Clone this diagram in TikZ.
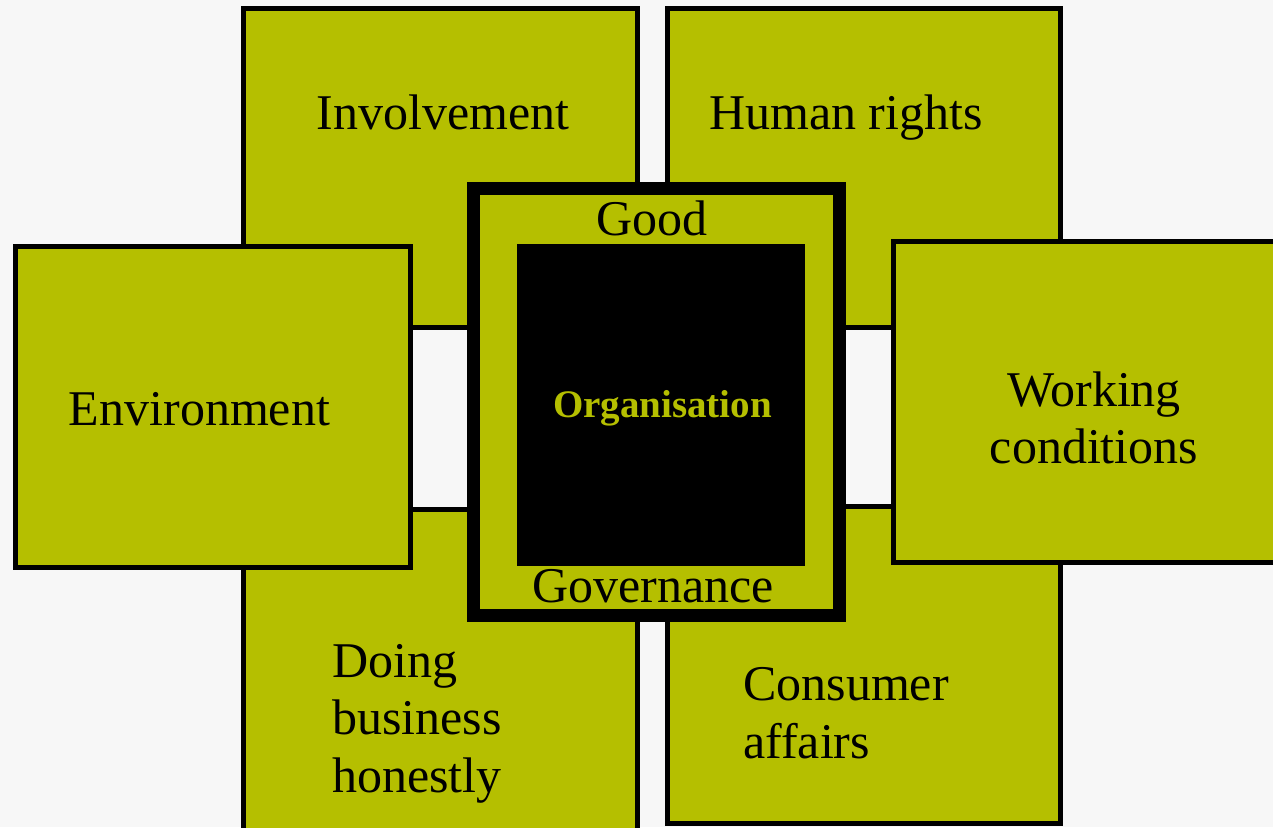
\documentclass[tikz,border=0pt]{standalone}
\usepackage{fontspec}
\setmainfont{Liberation Serif}
\definecolor{olive}{HTML}{B5BF00}
\definecolor{bgc}{HTML}{F7F7F7}
\tikzset{
  pillar/.style={draw=black, fill=olive, line width=5pt, rectangle, inner sep=0pt, outer sep=0pt},
  lbl/.style={font=\fontsize{50}{57}\selectfont, text=black, inner sep=0pt, anchor=base},
  lblw/.style={lbl, anchor=base west},
}
\begin{document}
\begin{tikzpicture}[x=1pt,y=-1pt]
\fill[bgc] (0,0) rectangle (1273,827);
\useasboundingbox (0,0) rectangle (1273,827);
\clip (0,0) rectangle (1273,827);
% vertical pillars
\node[pillar, minimum width=394pt, minimum height=319pt] (inv) at (440.5,168) {};
\node[pillar, minimum width=393pt, minimum height=319pt] (hum) at (864,168) {};
\node[pillar, minimum width=394pt, minimum height=325pt] (doi) at (440.5,672) {};
\node[pillar, minimum width=393pt, minimum height=317pt] (con) at (864,665) {};
% horizontal pillars
\node[pillar, minimum width=395pt, minimum height=321pt] (env) at (213,407) {};
\node[pillar, minimum width=395pt, minimum height=321pt] (wor) at (1091,402) {};
% centre
\node[draw=black, fill=olive, line width=13pt, rectangle, inner sep=0pt, minimum width=366pt, minimum height=427pt] (gov) at (656.5,402) {};
\node[fill=black, rectangle, inner sep=0pt, minimum width=288pt, minimum height=322pt] (org) at (661,405) {};
% labels
\node[lbl] (tinv) at (443,129) {Involvement};
\node[lbl] (thum) at (846,129) {Human rights};
\node[lbl] (tenv) at (199.5,425) {Environment};
\node[lbl] (twor1) at (1094,406) {Working};
\node[lbl] (twor2) at (1094,463) {conditions};
\node[lblw] (tdoi1) at (332,677) {Doing};
\node[lblw] (tdoi2) at (332,734) {business};
\node[lblw] (tdoi3) at (332,792) {honestly};
\node[lblw] (tcon1) at (743,700) {Consumer};
\node[lblw] (tcon2) at (743,758) {affairs};
\node[lbl] (tgood) at (652,235) {Good};
\node[lbl] (tgov) at (653,602) {Governance};
\node[font=\fontsize{39}{45}\bfseries\selectfont, text=olive, inner sep=0pt, anchor=base] (torg) at (662.5,417) {Organisation};
\end{tikzpicture}
\end{document}
